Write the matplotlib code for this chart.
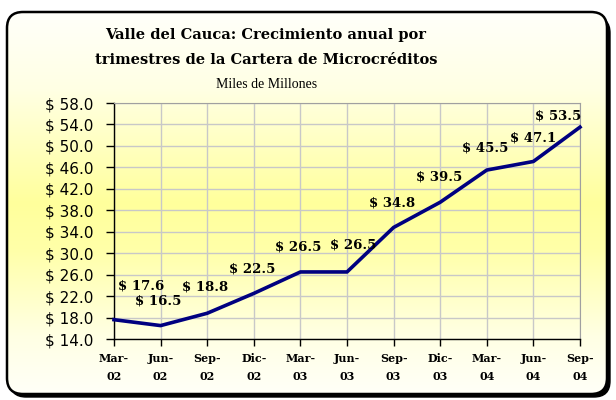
import matplotlib
matplotlib.use("Agg")
import matplotlib.pyplot as plt
import numpy as np
from matplotlib.patches import FancyBboxPatch
from matplotlib.colors import LinearSegmentedColormap

# datos
trimestres = ["Mar-\n02", "Jun-\n02", "Sep-\n02", "Dic-\n02", "Mar-\n03", "Jun-\n03",
              "Sep-\n03", "Dic-\n03", "Mar-\n04", "Jun-\n04", "Sep-\n04"]
cartera = [17.6, 16.5, 18.8, 22.5, 26.5, 26.5, 34.8, 39.5, 45.5, 47.1, 53.5]
yticks = [14, 18, 22, 26, 30, 34, 38, 42, 46, 50, 54, 58]

# desplazamiento de las etiquetas (pixeles)
offsets = [(27, 34), (-2, 25), (-2, 26), (-2, 24), (-2, 25), (6, 27),
           (-2, 24), (-1, 25), (-2, 22), (0, 23), (-22, 11)]

W, H = 616, 400
fig = plt.figure(figsize=(W / 100, H / 100), dpi=100)
fig.patch.set_facecolor("white")

# fondo con degradado y marco redondeado
bg = fig.add_axes([0, 0, 1, 1], zorder=-1)
bg.set_xlim(0, W)
bg.set_ylim(0, H)
bg.axis("off")

shadow = FancyBboxPatch((10, 3), 600, 380, boxstyle="round,pad=0,rounding_size=16",
                        fc="black", ec="black", lw=1)
bg.add_patch(shadow)
frame = FancyBboxPatch((7, 6), 600, 382, boxstyle="round,pad=0,rounding_size=16",
                       fc="none", ec="black", lw=1.8, zorder=3)
bg.add_patch(frame)

cmap = LinearSegmentedColormap.from_list(
    "fondo", [(0.0, "#fffffa"), (0.2, "#ffffe4"), (0.5, "#ffff9c"),
              (0.62, "#ffffa8"), (0.85, "#ffffe4"), (1.0, "#fffff8")])
grad = np.linspace(0, 1, 256).reshape(-1, 1)
im = bg.imshow(grad, cmap=cmap, extent=[7, 607, 6, 388], origin="upper",
               aspect="auto", zorder=2)
clip = FancyBboxPatch((7, 6), 600, 382, boxstyle="round,pad=0,rounding_size=16",
                      fc="none", ec="none", transform=bg.transData)
bg.add_patch(clip)
im.set_clip_path(clip)

# grafico
ax = fig.add_axes([114 / W, 1 - 339 / H, 466 / W, 236 / H])
ax.set_facecolor("none")
x = np.arange(len(cartera))
ax.plot(x, cartera, color="#000080", lw=2.6, zorder=3, clip_on=False)

for xi, v, (dx, dy) in zip(x, cartera, offsets):
    ax.annotate(f"$ {v:.1f}", (xi, v), xytext=(dx, dy), textcoords="offset pixels",
                ha="center", va="center", fontsize=9.5, fontweight="bold",
                family="DejaVu Serif", zorder=4)

ax.set_xlim(0, len(cartera) - 1)
ax.set_ylim(14, 58)
ax.set_xticks(x)
ax.set_xticklabels(trimestres, fontsize=8, fontweight="bold", family="DejaVu Serif",
                   linespacing=1.8)
ax.set_yticks(yticks)
ax.set_yticklabels([f"$ {t:.1f}" for t in yticks], fontsize=11, family="DejaVu Sans")
ax.tick_params(axis="y", direction="out", length=6, width=1, pad=9)
ax.tick_params(axis="x", direction="out", length=5, width=1, pad=5)
ax.grid(True, color="#c8c8c8", lw=1)
ax.set_axisbelow(True)
for s in ["top", "right"]:
    ax.spines[s].set_color("#a0a0a0")
for s in ["left", "bottom"]:
    ax.spines[s].set_color("black")
    ax.spines[s].set_linewidth(1)

fig.text(266 / W, 1 - 35 / H, "Valle del Cauca: Crecimiento anual por",
         ha="center", va="center", fontsize=10.5, fontweight="bold", family="DejaVu Serif")
fig.text(266 / W, 1 - 60 / H, "trimestres de la Cartera de Microcréditos",
         ha="center", va="center", fontsize=10.5, fontweight="bold", family="DejaVu Serif")
fig.text(267 / W, 1 - 84 / H, "Miles de Millones", ha="center", va="center",
         fontsize=10, family="Liberation Serif")

fig.savefig("out.png", dpi=100)
